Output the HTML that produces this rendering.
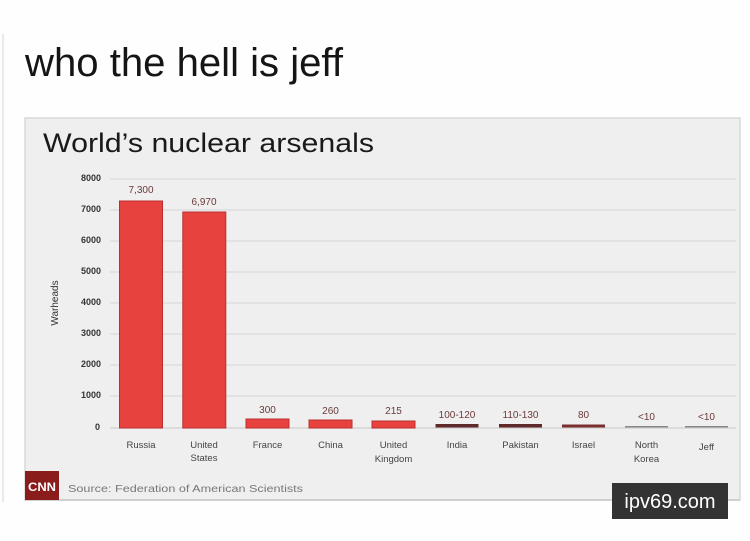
<!DOCTYPE html>
<html><head><meta charset="utf-8"><style>
html,body{margin:0;padding:0;background:#fff;}
svg{display:block;}
</style></head><body>
<svg width="750" height="541" viewBox="0 0 750 541" xmlns="http://www.w3.org/2000/svg" font-family="Liberation Sans, sans-serif">
<rect x="0" y="0" width="750" height="541" fill="#fefefe"/>
<line x1="3" y1="34" x2="3" y2="502" stroke="#e4e4e4" stroke-width="1.5"/>
<text x="25" y="76" font-size="40" fill="#151515" textLength="318" lengthAdjust="spacingAndGlyphs">who the hell is jeff</text>
<!-- panel -->
<rect x="25" y="118" width="715" height="382" fill="#efefef" stroke="#d8d8d8" stroke-width="1.5"/>
<text x="43" y="152" font-size="27" fill="#1a1a1a" textLength="331" lengthAdjust="spacingAndGlyphs">World’s nuclear arsenals</text>
<!-- gridlines -->
<g stroke="#dadada" stroke-width="1.2">
<line x1="110" y1="179" x2="736" y2="179"/>
<line x1="110" y1="210" x2="736" y2="210"/>
<line x1="110" y1="241" x2="736" y2="241"/>
<line x1="110" y1="272" x2="736" y2="272"/>
<line x1="110" y1="303" x2="736" y2="303"/>
<line x1="110" y1="334" x2="736" y2="334"/>
<line x1="110" y1="365" x2="736" y2="365"/>
<line x1="110" y1="396" x2="736" y2="396"/>
<line x1="110" y1="428" x2="736" y2="428" stroke="#cfcfcf"/>
</g>
<!-- y tick labels -->
<g font-size="9" fill="#333" text-anchor="end" font-weight="bold">
<text x="101" y="181">8000</text>
<text x="101" y="212">7000</text>
<text x="101" y="243">6000</text>
<text x="101" y="274">5000</text>
<text x="101" y="305">4000</text>
<text x="101" y="336">3000</text>
<text x="101" y="367">2000</text>
<text x="101" y="398">1000</text>
<text x="100" y="430">0</text>
</g>
<text transform="translate(58,303) rotate(-90)" font-size="10" fill="#333" text-anchor="middle">Warheads</text>
<!-- bars -->
<g fill="#e8423f" stroke="#b83030" stroke-width="1">
<rect x="119.5" y="201" width="43" height="227"/>
<rect x="182.8" y="212" width="43" height="216"/>
<rect x="246" y="419" width="43" height="9"/>
<rect x="309" y="420" width="43" height="8"/>
<rect x="372" y="421" width="43" height="7"/>
</g>
<rect x="435.5" y="424" width="43" height="3.5" fill="#5e2a2a"/>
<rect x="499" y="424" width="43" height="3.5" fill="#5e2a2a"/>
<rect x="562" y="424.5" width="43" height="3" fill="#7a2e2e"/>
<rect x="625" y="426" width="43" height="1.5" fill="#888"/>
<rect x="685" y="426" width="43" height="1.5" fill="#888"/>
<!-- value labels -->
<g font-size="10" fill="#6b3a3a" text-anchor="middle">
<text x="141" y="193">7,300</text>
<text x="204" y="205">6,970</text>
<text x="267.5" y="413">300</text>
<text x="330.5" y="414">260</text>
<text x="393.5" y="414">215</text>
<text x="457" y="418">100-120</text>
<text x="520.5" y="418">110-130</text>
<text x="583.5" y="418">80</text>
<text x="646.5" y="420">&lt;10</text>
<text x="706.5" y="420">&lt;10</text>
</g>
<!-- country labels -->
<g font-size="9.5" fill="#444" text-anchor="middle">
<text x="141" y="448">Russia</text>
<text x="204" y="448">United</text>
<text x="204" y="461">States</text>
<text x="267.5" y="448">France</text>
<text x="330.5" y="448">China</text>
<text x="393.5" y="448">United</text>
<text x="393.5" y="462">Kingdom</text>
<text x="457" y="448">India</text>
<text x="520.5" y="448">Pakistan</text>
<text x="583.5" y="448">Israel</text>
<text x="646.5" y="448">North</text>
<text x="646.5" y="462">Korea</text>
<text x="706.5" y="450">Jeff</text>
</g>
<!-- footer -->
<line x1="25" y1="500" x2="740" y2="500" stroke="#cfcfcf" stroke-width="2"/>
<rect x="25" y="471" width="34" height="29" fill="#8a1c1c"/>
<text x="42" y="491" font-size="12" font-weight="bold" fill="#fff" text-anchor="middle" textLength="28" lengthAdjust="spacingAndGlyphs">CNN</text>
<text x="68" y="492" font-size="10" fill="#777" textLength="235" lengthAdjust="spacingAndGlyphs">Source: Federation of American Scientists</text>
<!-- watermark -->
<rect x="612" y="483" width="116" height="36" fill="#333"/>
<text x="670" y="508" font-size="20" fill="#fff" text-anchor="middle">ipv69.com</text>
</svg>
</body></html>
